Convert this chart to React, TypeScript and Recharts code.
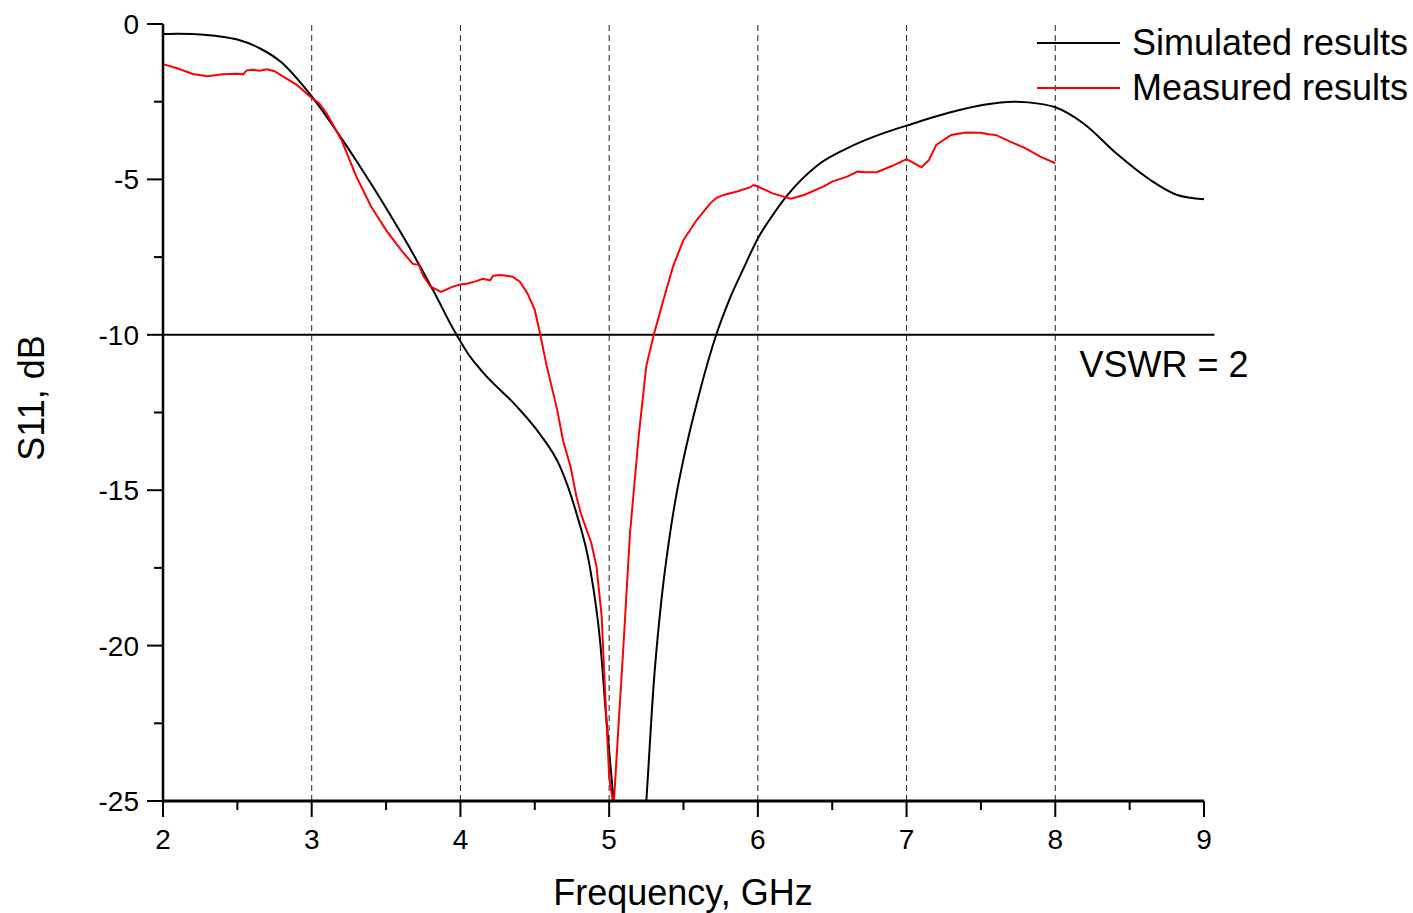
import React from 'react';
import { Legend, Line, LineChart, ReferenceLine, XAxis, YAxis } from 'recharts';

// S11 of the antenna: simulated vs measured, with VSWR = 2 (-10 dB) limit

const FONT = '"Liberation Sans", Arial, Helvetica, sans-serif';

// Simulated results (GHz, dB)
const simFreq = [
  2.0, 2.1, 2.2, 2.35, 2.5, 2.65, 2.8, 2.9, 3.0, 3.1, 3.2, 3.3, 3.4, 3.5, 3.6, 3.7, 3.82, 3.95,
  4.05, 4.15, 4.38, 4.535, 4.67, 4.78, 4.87, 4.94, 4.98, 5.03, 5.1, 5.15, 5.2, 5.25, 5.3, 5.35,
  5.4, 5.45, 5.5, 5.6, 5.72, 5.81, 5.9, 6.0, 6.1, 6.2, 6.4, 6.6, 6.84, 7.0, 7.29, 7.52, 7.72,
  7.9, 8.0, 8.19, 8.41, 8.64, 8.82, 9.0,
];
const simS11 = [
  -0.32, -0.31, -0.32, -0.38, -0.5, -0.78, -1.25, -1.75, -2.33, -2.98, -3.68, -4.4, -5.15, -5.92,
  -6.72, -7.55, -8.6, -9.8, -10.6, -11.2, -12.31, -13.2, -14.24, -15.74, -17.46, -19.9, -22.3,
  -25.0, -28.5, -29.5, -28.3, -25.0, -21.2, -18.6, -16.7, -15.2, -14.0, -12.0, -10.0, -8.85,
  -7.9, -6.9, -6.15, -5.5, -4.55, -4.0, -3.52, -3.27, -2.85, -2.6, -2.5, -2.57, -2.68, -3.2,
  -4.16, -5.02, -5.5, -5.64,
];

// Measured results (GHz, dB)
const measFreq = [
  2.0, 2.1, 2.2, 2.3, 2.4, 2.5, 2.54, 2.56, 2.6, 2.65, 2.7, 2.75, 2.8, 2.9, 3.0, 3.05, 3.1, 3.2,
  3.3, 3.4, 3.5, 3.6, 3.68, 3.72, 3.75, 3.8, 3.87, 3.95, 4.0, 4.05, 4.1, 4.15, 4.2, 4.22, 4.27,
  4.35, 4.4, 4.45, 4.5, 4.535, 4.58, 4.65, 4.69, 4.74, 4.78, 4.81, 4.88, 4.915, 4.95, 4.97, 5.0,
  5.03, 5.06, 5.095, 5.14, 5.2, 5.25, 5.3, 5.365, 5.43, 5.5, 5.59, 5.68, 5.72, 5.77, 5.86, 5.95,
  5.97, 6.0, 6.1, 6.22, 6.31, 6.44, 6.5, 6.6, 6.67, 6.72, 6.8, 6.9, 7.0, 7.05, 7.1, 7.15, 7.2,
  7.3, 7.4, 7.5, 7.55, 7.6, 7.7, 7.8, 7.9, 8.0,
];
const measS11 = [
  -1.29, -1.43, -1.61, -1.68, -1.62, -1.6, -1.62, -1.5, -1.47, -1.5, -1.46, -1.52, -1.67, -1.96,
  -2.38, -2.55, -2.87, -3.73, -4.91, -5.88, -6.63, -7.27, -7.72, -7.75, -8.1, -8.45, -8.62,
  -8.45, -8.38, -8.35, -8.28, -8.2, -8.25, -8.1, -8.08, -8.13, -8.29, -8.66, -9.2, -9.95, -11.0,
  -12.4, -13.4, -14.24, -15.2, -15.75, -16.7, -17.46, -19.07, -21.2, -24.2, -25.2, -22.8, -20.1,
  -16.4, -13.2, -11.0, -10.0, -8.88, -7.8, -6.95, -6.3, -5.77, -5.6, -5.5, -5.39, -5.25, -5.18,
  -5.23, -5.45, -5.62, -5.5, -5.23, -5.07, -4.91, -4.75, -4.77, -4.77, -4.57, -4.35, -4.48,
  -4.61, -4.38, -3.89, -3.57, -3.49, -3.5, -3.55, -3.57, -3.79, -4.0, -4.27, -4.48,
];

const xTicks = [2, 2.5, 3, 3.5, 4, 4.5, 5, 5.5, 6, 6.5, 7, 7.5, 8, 8.5, 9];
const yTicks = [0, -2.5, -5, -7.5, -10, -12.5, -15, -17.5, -20, -22.5, -25];
const gridFreqs = [3, 4, 5, 6, 7, 8];
const legendOrder = ['Simulated results', 'Measured results'];
const VSWR_LIMIT = -10;

const simData = simFreq.map((f, i) => ({ f, s11: simS11[i] }));
const measData = measFreq.map((f, i) => ({ f, s11: measS11[i] }));

function XTick({ x, y, payload }: any) {
  const major = Number.isInteger(payload.value);
  return (
    <g>
      <line x1={x} y1={y} x2={x} y2={y + (major ? 16 : 9)} stroke="#000" strokeWidth={2} />
      {major && (
        <text x={x} y={y + 48} textAnchor="middle" fontSize={28} fontFamily={FONT} fill="#000">
          {payload.value}
        </text>
      )}
    </g>
  );
}

function YTick({ x, y, payload }: any) {
  const major = payload.value % 5 === 0;
  return (
    <g>
      <line x1={x - (major ? 16 : 9)} y1={y} x2={x} y2={y} stroke="#000" strokeWidth={2} />
      {major && (
        <text x={x - 24} y={y + 10} textAnchor="end" fontSize={28} fontFamily={FONT} fill="#000">
          {payload.value}
        </text>
      )}
    </g>
  );
}

function LegendBox({ payload }: any) {
  const items = [...(payload || [])].sort(
    (a: any, b: any) => legendOrder.indexOf(a.value) - legendOrder.indexOf(b.value)
  );
  return (
    <div style={{ fontFamily: FONT, fontSize: 36, whiteSpace: 'nowrap', color: '#000' }}>
      {items.map((p: any) => (
        <div key={p.value} style={{ display: 'flex', alignItems: 'center', height: 45 }}>
          <svg width={95} height={4} style={{ display: 'block' }}>
            <line x1={0} y1={2} x2={83} y2={2} stroke={p.color} strokeWidth={2} />
          </svg>
          <span style={{ lineHeight: '45px' }}>{p.value}</span>
        </div>
      ))}
    </div>
  );
}

export default function App() {
  return (
    <div style={{ position: 'absolute', left: 0, top: 0, background: '#fff' }}>
      <LineChart width={1413} height={913} margin={{ top: 24, right: 209, bottom: 0, left: 0 }}>
        <XAxis
          dataKey="f"
          type="number"
          domain={[2, 9]}
          ticks={xTicks}
          interval={0}
          height={112}
          tickSize={0}
          tickMargin={0}
          tickLine={false}
          tick={<XTick />}
          axisLine={{ stroke: '#000', strokeWidth: 3 }}
          allowDuplicatedCategory={false}
          label={() => (
            <text x={683} y={905} textAnchor="middle" fontSize={36} fontFamily={FONT} fill="#000">
              Frequency, GHz
            </text>
          )}
        />
        <YAxis
          dataKey="s11"
          type="number"
          domain={[-25, 0]}
          allowDataOverflow
          ticks={yTicks}
          interval={0}
          width={163}
          tickSize={0}
          tickMargin={0}
          tickLine={false}
          tick={<YTick />}
          axisLine={{ stroke: '#000', strokeWidth: 2.5 }}
          label={() => (
            <text
              x={44}
              y={398}
              transform="rotate(-90 44 398)"
              textAnchor="middle"
              fontSize={36}
              fontFamily={FONT}
              fill="#000"
            >
              S11, dB
            </text>
          )}
        />
        {gridFreqs.map((g) => (
          <ReferenceLine key={g} x={g} stroke="#222" strokeWidth={1} strokeDasharray="6 4" />
        ))}
        <ReferenceLine
          segment={[
            { x: 2, y: VSWR_LIMIT },
            { x: 9.07, y: VSWR_LIMIT },
          ]}
          ifOverflow="visible"
          stroke="#000"
          strokeWidth={2}
          label={(props: any) => {
            const vb = props.viewBox || { x: 163, y: 335, width: 1051 };
            return (
              <text
                x={vb.x + vb.width - 135}
                y={vb.y + 42}
                fontSize={36}
                fontFamily={FONT}
                fill="#000"
              >
                VSWR = 2
              </text>
            );
          }}
        />
        <Line
          data={simData}
          dataKey="s11"
          name="Simulated results"
          type="monotone"
          stroke="#000"
          strokeWidth={2}
          dot={false}
          activeDot={false}
          isAnimationActive={false}
        />
        <Line
          data={measData}
          dataKey="s11"
          name="Measured results"
          type="linear"
          stroke="#ff0000"
          strokeWidth={2}
          dot={false}
          activeDot={false}
          isAnimationActive={false}
        />
        <Legend
          layout="vertical"
          align="center"
          verticalAlign="middle"
          content={<LegendBox />}
          wrapperStyle={{ left: 1037, top: 20, width: 376 }}
        />
      </LineChart>
    </div>
  );
}
